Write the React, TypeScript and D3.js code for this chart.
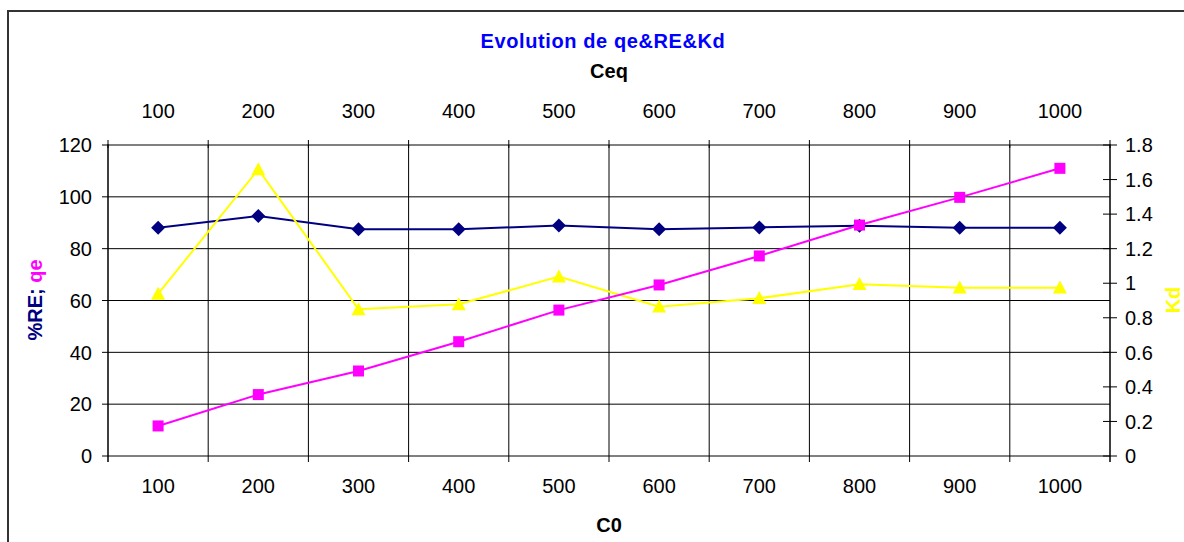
import React from "react";
import * as d3 from "d3";

// Categories (initial concentration C0, also shown as Ceq on top axis)
const categories = ["100", "200", "300", "400", "500", "600", "700", "800", "900", "1000"];
// Removal efficiency %RE (left axis)
const reValues = [88.1, 92.6, 87.5, 87.5, 88.9, 87.5, 88.2, 88.8, 88.1, 88.1];
// Adsorbed quantity qe (left axis)
const qeValues = [11.6, 23.7, 32.8, 44.1, 56.3, 66.0, 77.2, 89.1, 99.8, 111.0];
// Distribution coefficient Kd (right axis)
const kdValues = [0.938, 1.659, 0.849, 0.878, 1.038, 0.864, 0.913, 0.994, 0.974, 0.974];

const leftTicks = [0, 20, 40, 60, 80, 100, 120];
const rightTicks = [0, 0.2, 0.4, 0.6, 0.8, 1, 1.2, 1.4, 1.6, 1.8];

const W = 1184;
const H = 542;
const plot = { left: 108, right: 1110, top: 145, bottom: 456 };

const NAVY = "#000080";
const MAGENTA = "#FF00FF";
const YELLOW = "#FFFF00";
const FONT = "'Liberation Sans', Arial, sans-serif";

export default function App() {
  const x = d3
    .scaleBand<string>()
    .domain(categories)
    .range([plot.left, plot.right])
    .padding(0);
  const yL = d3.scaleLinear().domain([0, 120]).range([plot.bottom, plot.top]);
  const yR = d3.scaleLinear().domain([0, 1.8]).range([plot.bottom, plot.top]);
  const cx = (c: string) => (x(c) as number) + x.bandwidth() / 2;

  const lineL = d3
    .line<number>()
    .x((_, i) => cx(categories[i]))
    .y((v) => yL(v));
  const lineR = d3
    .line<number>()
    .x((_, i) => cx(categories[i]))
    .y((v) => yR(v));

  const boundaries = categories.map((c) => x(c) as number).concat([plot.right]);

  const diamond = (px: number, py: number) => {
    const r = 7;
    return `M${px},${py - r}L${px + r},${py}L${px},${py + r}L${px - r},${py}Z`;
  };
  const triangle = (px: number, py: number) => {
    const h = 13;
    const w = 14;
    return `M${px},${py - h * 0.55}L${px + w / 2},${py + h * 0.45}L${px - w / 2},${py + h * 0.45}Z`;
  };

  return (
    <div style={{ position: "absolute", left: 0, top: 0 }}>
      <svg width={W} height={H} style={{ display: "block", background: "#fff" }} fontFamily={FONT}>
        {/* outer chart frame */}
        <rect x={8} y={11} width={1250} height={650} fill="#fff" stroke="#333" strokeWidth={2} />

        {/* horizontal gridlines */}
        {leftTicks.map((t) => (
          <line key={"h" + t} x1={plot.left} x2={plot.right} y1={yL(t)} y2={yL(t)} stroke="#000" strokeWidth={1} />
        ))}
        {/* vertical gridlines at category boundaries */}
        {boundaries.map((b, i) => (
          <line key={"v" + i} x1={b} x2={b} y1={plot.top} y2={plot.bottom} stroke="#000" strokeWidth={1} />
        ))}

        {/* left axis */}
        <line x1={plot.left} x2={plot.left} y1={plot.top - 1} y2={plot.bottom + 6} stroke="#000" />
        {leftTicks.map((t) => (
          <g key={"lt" + t}>
            <line x1={plot.left - 6} x2={plot.left} y1={yL(t)} y2={yL(t)} stroke="#000" />
            <text x={92} y={yL(t)} dy="0.36em" textAnchor="end" fontSize={20} fill="#000">
              {t}
            </text>
          </g>
        ))}

        {/* right axis */}
        <line x1={plot.right} x2={plot.right} y1={plot.top - 1} y2={plot.bottom + 6} stroke="#000" />
        {rightTicks.map((t) => (
          <g key={"rt" + t}>
            <line x1={plot.right - 7} x2={plot.right + 7} y1={yR(t)} y2={yR(t)} stroke="#000" />
            <text x={1125} y={yR(t)} dy="0.36em" textAnchor="start" fontSize={20} fill="#000">
              {d3.format("~g")(t)}
            </text>
          </g>
        ))}

        {/* bottom axis */}
        {boundaries.map((b, i) => (
          <line key={"bt" + i} x1={b} x2={b} y1={plot.bottom} y2={plot.bottom + 6} stroke="#000" />
        ))}
        {categories.map((c) => (
          <text key={"bl" + c} x={cx(c)} y={493} textAnchor="middle" fontSize={20} fill="#000">
            {c}
          </text>
        ))}
        <text x={609} y={532} textAnchor="middle" fontSize={20} fontWeight="bold" fill="#000">
          C0
        </text>

        {/* top axis */}
        {boundaries.map((b, i) => (
          <line key={"tt" + i} x1={b} x2={b} y1={plot.top - 5} y2={plot.top + 3} stroke="#000" />
        ))}
        {categories.map((c) => (
          <text key={"tl" + c} x={cx(c)} y={118} textAnchor="middle" fontSize={20} fill="#000">
            {c}
          </text>
        ))}
        <text x={609} y={78} textAnchor="middle" fontSize={20} fontWeight="bold" fill="#000">
          Ceq
        </text>

        {/* title */}
        <text x={603} y={48} textAnchor="middle" fontSize={20} fontWeight="bold" fill="#0000FF" letterSpacing={0.6}>
          Evolution de qe&amp;RE&amp;Kd
        </text>

        {/* axis titles */}
        <text
          transform="translate(42,300) rotate(-90)"
          textAnchor="middle"
          fontSize={20}
          fontWeight="bold"
        >
          <tspan fill={NAVY}>%RE; </tspan>
          <tspan fill={MAGENTA}>qe</tspan>
        </text>
        <text
          transform="translate(1180,300) rotate(-90)"
          textAnchor="middle"
          fontSize={20}
          fontWeight="bold"
          fill={YELLOW}
        >
          Kd
        </text>

        {/* %RE series */}
        <path d={lineL(reValues) || ""} fill="none" stroke={NAVY} strokeWidth={2} />
        {reValues.map((v, i) => (
          <path key={"re" + i} d={diamond(cx(categories[i]), yL(v))} fill={NAVY} />
        ))}

        {/* Kd series */}
        <path d={lineR(kdValues) || ""} fill="none" stroke={YELLOW} strokeWidth={2} />
        {kdValues.map((v, i) => (
          <path key={"kd" + i} d={triangle(cx(categories[i]), yR(v))} fill={YELLOW} />
        ))}

        {/* qe series */}
        <path d={lineL(qeValues) || ""} fill="none" stroke={MAGENTA} strokeWidth={2} />
        {qeValues.map((v, i) => (
          <rect
            key={"qe" + i}
            x={cx(categories[i]) - 5.5}
            y={yL(v) - 5.5}
            width={11}
            height={11}
            fill={MAGENTA}
          />
        ))}
      </svg>
    </div>
  );
}
